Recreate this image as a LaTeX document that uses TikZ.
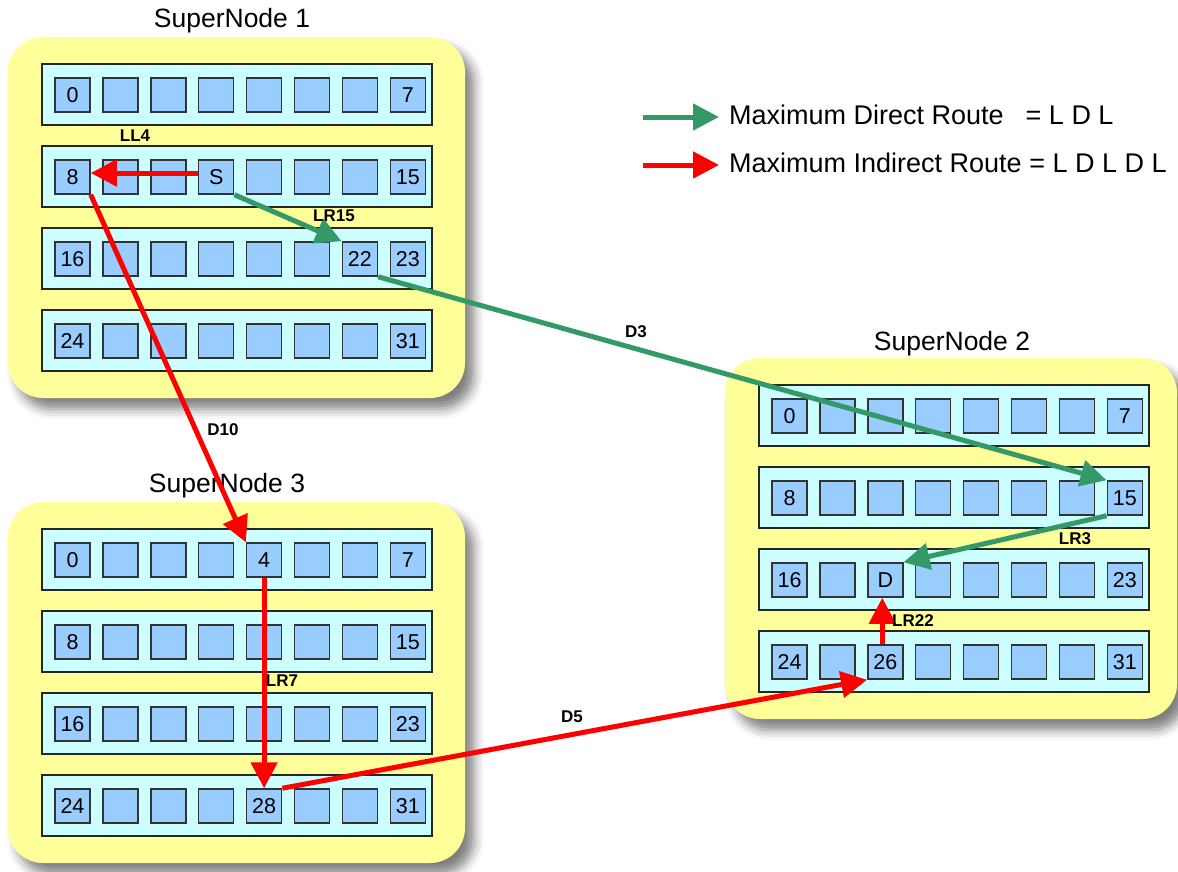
\documentclass[tikz,border=0pt]{standalone}
\usepackage{fontspec}
\setmainfont{Liberation Sans}
\usetikzlibrary{arrows.meta,shadows.blur}
\definecolor{snyellow}{HTML}{FFFF99}
\definecolor{rowcyan}{HTML}{CCFFFF}
\definecolor{cellblue}{HTML}{99CCFF}
\definecolor{routegreen}{HTML}{339966}
\definecolor{routered}{HTML}{FF0000}
\tikzset{
  snbox/.style={fill=snyellow, draw=none, rounded corners=35pt,
    blur shadow={shadow xshift=9pt, shadow yshift=-11pt, shadow blur radius=10pt, shadow opacity=50}},
  rowbox/.style={fill=rowcyan, draw=black!85, line width=1.2pt},
  cell/.style={fill=cellblue, draw=black!80, line width=1.5pt, minimum width=35pt,
    minimum height=34pt, inner sep=0pt, font=\fontsize{21.5}{21.5}\selectfont},
  sntitle/.style={font=\fontsize{26.5}{26.5}\selectfont, anchor=base, inner sep=0pt},
  legendtext/.style={font=\fontsize{27}{27}\selectfont, anchor=base west, inner sep=0pt},
  route/.style={line width=5pt, -{Triangle[length=26pt,width=26pt]}},
  gr/.style={route, draw=routegreen},
  rd/.style={route, draw=routered},
  lbl/.style={font=\fontsize{17}{17}\selectfont\bfseries, inner sep=0pt},
}
\newcommand\celllabel[3]{\ifcsname lbl@#1@#2@#3\endcsname\csname lbl@#1@#2@#3\endcsname\else\ifnum#3=0 \the\numexpr8*#2\relax\else\ifnum#3=7 \the\numexpr8*#2+7\relax\fi\fi\fi}
\expandafter\def\csname lbl@a@1@3\endcsname{S}
\expandafter\def\csname lbl@a@2@6\endcsname{22}
\expandafter\def\csname lbl@b@2@2\endcsname{D}
\expandafter\def\csname lbl@b@3@2\endcsname{26}
\expandafter\def\csname lbl@c@0@4\endcsname{4}
\expandafter\def\csname lbl@c@3@4\endcsname{28}
\newcommand\drawsn[4]{%
  \path[snbox] (#2,#3) rectangle ++(#4,361);
  \foreach \r in {0,...,3}{
    \path[rowbox] ({#2+34},{#3+27+82*\r}) rectangle ++(390,61);
    \foreach \c in {0,...,7}{
      \node[cell] (#1-\r-\c) at ({#2+34+30.5+47.9*\c},{#3+27+31+82*\r}) {\celllabel{#1}{\r}{\c}};
    }
  }
}
\begin{document}
\begin{tikzpicture}[x=1pt, y=-1pt]
\useasboundingbox (0,0) rectangle (1178,871);
% supernodes
\drawsn{a}{8}{37}{457}
\drawsn{b}{725}{358}{452}
\drawsn{c}{8}{502}{457}
% titles
\node[sntitle] (t1) at (232,27) {SuperNode 1};
\node[sntitle] (t2) at (952,350) {SuperNode 2};
\node[sntitle] (t3) at (227,492) {SuperNode 3};
% legend
\coordinate (lg1) at (643,117);
\coordinate (lg1e) at (719,117);
\coordinate (lg2) at (643,165);
\coordinate (lg2e) at (719,165);
\draw[gr] (lg1) -- (lg1e);
\draw[rd] (lg2) -- (lg2e);
\node[legendtext] (ltx1) at (729,124) {Maximum Direct Route\hspace{22pt}= L D L};
\node[legendtext] (ltx2) at (729,172) {Maximum Indirect Route = L D L D L};
% direct route (green)
\draw[gr] (a-1-3.south east) -- (a-2-6.north west);
\draw[gr] (a-2-6.south east) -- (b-1-7.north west);
\draw[gr] (b-1-7.south west) -- (b-2-2.north east);
% indirect route (red)
\draw[rd] ([yshift=4pt]a-1-3.west) -- ([yshift=4pt]a-1-0.east);
\draw[rd] (a-1-0.south east) -- (c-0-4.north west);
\draw[rd] (c-0-4.south) -- (c-3-4.north);
\draw[rd] (c-3-4.north east) -- (b-3-2.south west);
\draw[rd] ([xshift=-3pt]b-3-2.north) -- ([xshift=-3pt]b-2-2.south);
% labels
\node[lbl] (lLL4) at (135,136) {LL4};
\node[lbl] (lLR15) at (334,216) {LR15};
\node[lbl] (lD3) at (636,332) {D3};
\node[lbl] (lLR3) at (1075,539) {LR3};
\node[lbl] (lLR22) at (913,621) {LR22};
\node[lbl] (lD5) at (572,717) {D5};
\node[lbl] (lD10) at (223,430) {D10};
\node[lbl] (lLR7) at (282,681) {LR7};
\end{tikzpicture}
\end{document}
